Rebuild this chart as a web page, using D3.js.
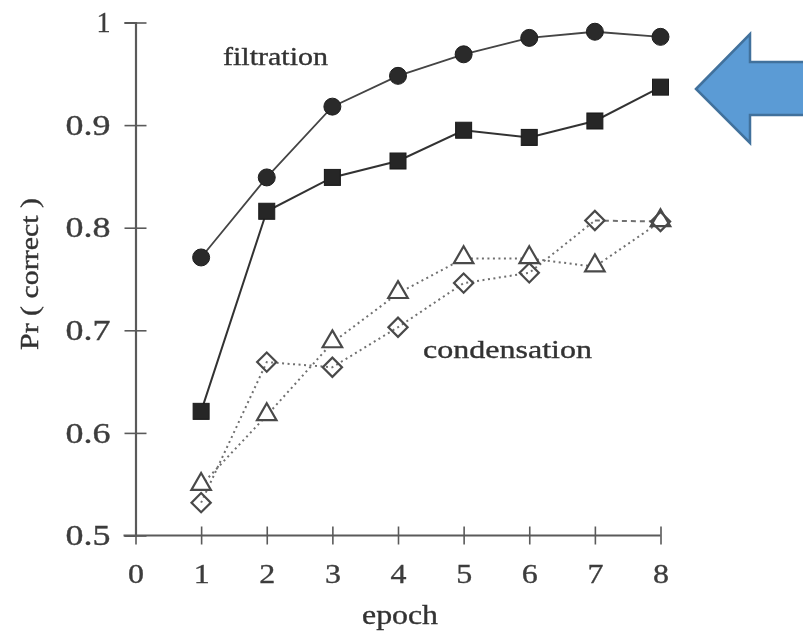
<!DOCTYPE html>
<html>
<head>
<meta charset="utf-8">
<script src="https://cdn.jsdelivr.net/npm/d3@7"></script>
<style>
  html, body { margin: 0; padding: 0; background: #fff; }
  svg { display: block; }
  text { font-family: "Liberation Serif", "DejaVu Serif", serif; }
</style>
</head>
<body>
<svg id="chart" width="803" height="634"></svg>
<script>
// Accuracy per training epoch for two filtration and two condensation runs
const epochs = [1, 2, 3, 4, 5, 6, 7, 8];
const filtrationCircle = [0.771, 0.849, 0.918, 0.948, 0.969, 0.985, 0.991, 0.986];
const filtrationSquare = [0.621, 0.816, 0.849, 0.865, 0.895, 0.888, 0.904, 0.937];
const condensationTriangle = [0.549, 0.617, 0.688, 0.736, 0.770, 0.770, 0.762, 0.806];
const condensationDiamond = [0.532, 0.669, 0.664, 0.703, 0.746, 0.756, 0.807, 0.806];
const xTicks = [0, 1, 2, 3, 4, 5, 6, 7, 8];
const yTicks = [0.5, 0.6, 0.7, 0.8, 0.9, 1];

const svg = d3.select("#chart");
const x = d3.scaleLinear().domain([0, 8]).range([135.5, 660.5]);
const y = d3.scaleLinear().domain([0.5, 1]).range([535.5, 22.5]);

const ink = "#5a5a5a";
svg.append("defs").append("filter").attr("id", "soft")
  .attr("x", "-5%").attr("y", "-5%").attr("width", "110%").attr("height", "110%")
  .append("feGaussianBlur").attr("stdDeviation", 0.75);
const plot = svg.append("g").attr("filter", "url(#soft)");

// The figure's typeface runs wide, so text is stretched to a set length
const fit = (sel, len) => sel.attr("textLength", len).attr("lengthAdjust", "spacingAndGlyphs");

// Axes: ticks cross the axis line on both sides
const yAxis = plot.append("g").attr("transform", `translate(${x(0)},0)`)
  .call(d3.axisLeft(y).tickValues(yTicks).tickSize(11).tickPadding(14)
    .tickFormat(d => d === 1 ? "1" : d3.format(".1f")(d)));
yAxis.selectAll(".tick line").attr("x2", 11).clone().attr("x2", -11);
const xAxis = plot.append("g").attr("transform", `translate(0,${y(0.5)})`)
  .call(d3.axisBottom(x).tickValues(xTicks).tickSize(9));
xAxis.selectAll(".tick line").attr("y1", -9);
[yAxis, xAxis].forEach(a => {
  a.select(".domain").attr("stroke", ink).attr("stroke-width", 2.2);
  a.selectAll(".tick line").attr("stroke", ink).attr("stroke-width", 1.6);
  a.selectAll(".tick text").attr("fill", "#3c3c3c").attr("stroke", "#3c3c3c").attr("stroke-width", 0.35)
    .attr("font-family", "Liberation Serif, serif");
});
yAxis.selectAll(".tick text").attr("font-size", 29)
  .each(function (d) { fit(d3.select(this), d === 1 ? 14 : 45); });
xAxis.selectAll(".tick text").attr("font-size", 28).attr("y", 47).attr("dy", 0)
  .each(function () { fit(d3.select(this), 16); });
xAxis.select(".domain").attr("d", `M${x(0) - 12},0H${x(8)}`);

const label = (t, size) => plot.append("text").attr("font-size", size)
  .attr("fill", "#333").attr("stroke", "#333").attr("stroke-width", 0.35).text(t);
fit(label("epoch", 27).attr("x", x(4) + 2).attr("y", 624).attr("text-anchor", "middle"), 76);
fit(label("Pr ( correct )", 25).attr("text-anchor", "middle")
  .attr("transform", `translate(38,274) rotate(-90)`), 152);

const line = d3.line().x((d, i) => x(epochs[i])).y(d => y(d));
const lineFrom = start => d3.line().x((d, i) => x(epochs[start + i])).y(d => y(d));

// Condensation runs: dotted lines with hollow markers
const dotted = "#707070";
plot.append("path").datum(condensationTriangle).attr("d", line)
  .attr("fill", "none").attr("stroke", dotted).attr("stroke-width", 2).attr("stroke-dasharray", "2,3.5");
plot.append("path").datum(condensationDiamond.slice(0, 7)).attr("d", line)
  .attr("fill", "none").attr("stroke", dotted).attr("stroke-width", 2).attr("stroke-dasharray", "2,3.5");
plot.append("path").datum(condensationDiamond.slice(6)).attr("d", lineFrom(6))
  .attr("fill", "none").attr("stroke", dotted).attr("stroke-width", 2).attr("stroke-dasharray", "5,4");

// Filtration runs: solid lines with filled markers
plot.append("path").datum(filtrationCircle).attr("d", line)
  .attr("fill", "none").attr("stroke", "#444").attr("stroke-width", 1.8);
plot.append("path").datum(filtrationSquare).attr("d", line)
  .attr("fill", "none").attr("stroke", "#333").attr("stroke-width", 2);

const tri = d3.symbol().type(d3.symbolTriangle).size(165);
plot.selectAll(".tri").data(condensationTriangle).join("path")
  .attr("transform", (d, i) => `translate(${x(epochs[i])},${y(d) - 1})`)
  .attr("d", tri).attr("fill", "#fff").attr("stroke", "#4a4a4a").attr("stroke-width", 2.2);

const dia = d3.symbol().type(d3.symbolSquare).size(185);
plot.selectAll(".dia").data(condensationDiamond).join("path")
  .attr("transform", (d, i) => `translate(${x(epochs[i])},${y(d)}) rotate(45)`)
  .attr("d", dia).attr("fill", "none").attr("stroke", "#4a4a4a").attr("stroke-width", 2.2);

plot.selectAll(".circ").data(filtrationCircle).join("circle")
  .attr("cx", (d, i) => x(epochs[i])).attr("cy", d => y(d)).attr("r", 8.5)
  .attr("fill", "#2a2a2a").attr("stroke", "#1e1e1e").attr("stroke-width", 1);
plot.selectAll(".sq").data(filtrationSquare).join("rect")
  .attr("x", (d, i) => x(epochs[i]) - 8).attr("y", d => y(d) - 8)
  .attr("width", 16).attr("height", 16)
  .attr("fill", "#262626").attr("stroke", "#1a1a1a").attr("stroke-width", 1);

// Series annotations
fit(label("filtration", 25).attr("x", 223).attr("y", 65), 105);
fit(label("condensation", 25).attr("x", 423).attr("y", 358), 169);

// Callout arrow pointing at the upper filtration curves
const arrowPts = [[696, 89], [750, 34], [750, 62], [805, 62], [805, 115], [750, 115], [750, 143]];
svg.append("path").attr("d", d3.line()(arrowPts) + "Z")
  .attr("fill", "#5b9bd5").attr("stroke", "#41719c").attr("stroke-width", 2.5)
  .attr("stroke-linejoin", "miter");
</script>
</body>
</html>
